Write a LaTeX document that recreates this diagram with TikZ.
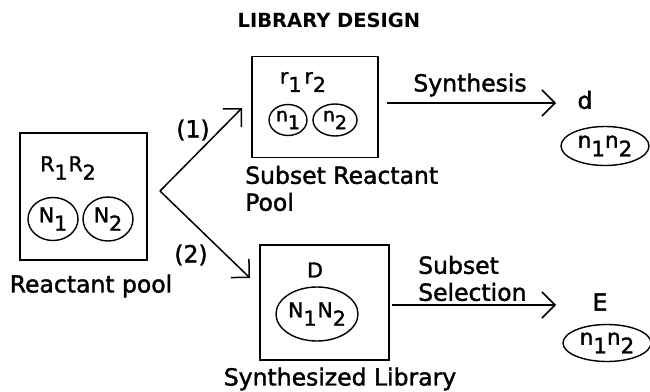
\documentclass[tikz,border=0pt]{standalone}
\usepackage{fontspec}
\setmainfont{DejaVu Sans}
\newfontfamily\lblfont{DejaVu Sans}[FakeBold=1.6]
\newfontfamily\headfont{DejaVu Sans Bold}
\usetikzlibrary{arrows.meta,shapes.geometric}
% lowered index digit, set in the same font
\newcommand{\lo}[1]{\raisebox{-0.75ex}{#1}}

\begin{document}
\begin{tikzpicture}[x=1pt,y=-1pt,
  txt/.style={font=\lblfont\fontsize{23.5}{27}\selectfont, inner sep=0pt},
  ttl/.style={font=\headfont\fontsize{19.5}{22}\selectfont, inner sep=0pt, anchor=center},
  inner/.style={font=\lblfont\fontsize{20.5}{23}\selectfont, inner sep=0pt},
  pool/.style={draw, line width=1.8pt, inner sep=0pt},
  ring/.style={draw, ellipse, line width=1.4pt, inner sep=0pt,
               font=\lblfont\fontsize{20.5}{23}\selectfont},
  flow/.style={line width=1.5pt, -{Straight Barb[length=13pt,width=26pt,line width=1.5pt]}}]

\useasboundingbox (0,0) rectangle (650,391);

% title
\node[ttl] (title) at (329,20) {LIBRARY DESIGN};

% full reactant pool
\node[pool, minimum width=127pt, minimum height=127pt] (rp) at (83.5,196.5) {};
\node[inner] (R) at (68,168) {R\lo{1}\kern1ptR\lo{2}};
\node[ring, minimum width=50pt, minimum height=43pt] (N1) at (53,219) {N\lo{1}};
\node[ring, minimum width=50pt, minimum height=44pt] (N2) at (108,219) {N\lo{2}};
\node[txt] (rpl) at (91,286) {Reactant pool};

% subset reactant pool
\node[pool, minimum width=126pt, minimum height=101pt] (sp) at (315,107) {};
\node[inner] (r) at (303,82) {r\lo{1}\kern3pt r\lo{2}};
\node[ring, minimum width=38pt, minimum height=31pt, font=\lblfont\fontsize{19}{21}\selectfont] (n1) at (288,120) {n\lo{1}};
\node[ring, minimum width=44pt, minimum height=32pt, font=\lblfont\fontsize{19}{21}\selectfont] (n2) at (335,120) {n\lo{2}};
\node[txt, anchor=west, align=left] (spl) at (245,188.5) {Subset Reactant\\Pool};

% synthesized library
\node[pool, minimum width=129pt, minimum height=115pt] (sl) at (324.5,302.5) {};
\node[inner] (D) at (315,270) {D};
\node[ring, minimum width=82pt, minimum height=54pt] (NN) at (317,314) {N\lo{1}\kern1ptN\lo{2}};
\node[txt] (sll) at (340,379) {Synthesized Library};

% products
\node[txt] (d) at (585,100) {d};
\node[ring, minimum width=88pt, minimum height=39pt, font=\lblfont\fontsize{21.5}{24}\selectfont] (pd) at (605,146) {n\lo{1}n\lo{2}};
\node[txt] (E) at (600,302) {E};
\node[ring, minimum width=88pt, minimum height=37pt, font=\lblfont\fontsize{21.5}{24}\selectfont] (pe) at (607,343) {n\lo{1}n\lo{2}};

% routes
\coordinate (fork) at (160,191);
\coordinate (t1) at (242,108);
\coordinate (t2) at (250,278);
\draw[flow] (fork) -- (t1);
\draw[flow] (fork) -- (t2);
\node[txt] (l1) at (193,130) {(1)};
\node[txt] (l2) at (191,255) {(2)};

\coordinate (s0) at (387,103);
\coordinate (s1) at (556,103);
\draw[flow] (s0) -- (s1);
\node[txt] (syn) at (470,85) {Synthesis};

\coordinate (e0) at (392,305);
\coordinate (e1) at (556,305);
\draw[flow] (e0) -- (e1);
\node[txt, anchor=west, align=left] (sel) at (418,278.5) {Subset\\Selection};
\end{tikzpicture}
\end{document}
